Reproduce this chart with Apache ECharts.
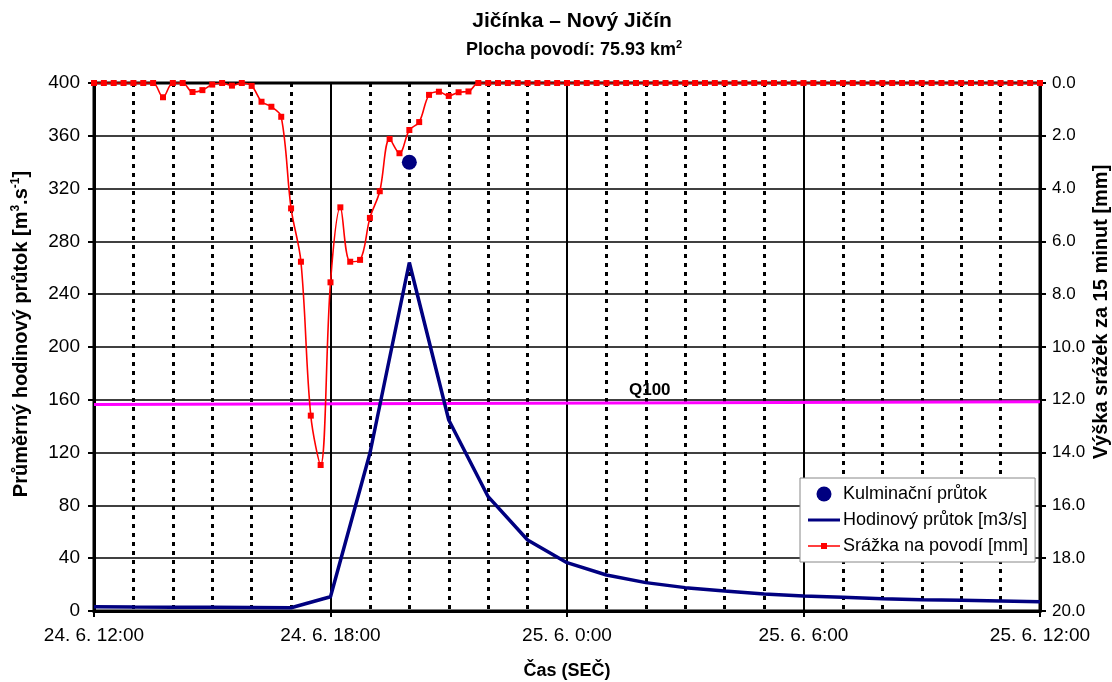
<!DOCTYPE html>
<html>
<head>
<meta charset="utf-8">
<script src="https://cdn.jsdelivr.net/npm/echarts@6/dist/echarts.min.js"></script>
<style>
html,body{margin:0;padding:0;background:#fff;overflow:hidden;}
#chart{width:1112px;height:682px;}
</style>
</head>
<body>
<div id="chart"></div>
<script>
// x axis: hours since 24. 6. 12:00
const xTickLabels = ['24. 6. 12:00', '24. 6. 18:00', '25. 6. 0:00', '25. 6. 6:00', '25. 6. 12:00'];
// hourly flow [m3/s], 24.6 12:00 .. 25.6 12:00
const flowHours = [0,1,2,3,4,5,6,7,8,9,10,11,12,13,14,15,16,17,18,19,20,21,22,23,24];
const flowValues = [3.2,3.0,2.9,2.8,2.7,2.5,10.8,119.5,264,144.7,86.6,53.8,36.6,27.3,21.5,17.7,15.2,12.9,11.4,10.4,9.3,8.6,8.1,7.6,7.1];
// 15-minute rainfall [mm], starting 24.6 12:00
const rainValues = [
  0,0,0,0, 0,0,0,0.54, 0,0,0.34,0.27, 0.06,0,0.1,0, 0.11,0.71,0.9,1.28,
  4.75,6.77,12.6,14.47, 7.55,4.71,6.77,6.70, 5.11,4.1,2.12,2.66, 1.78,1.48,0.45,0.33,
  0.49,0.35,0.32,0,
  0,0,0,0, 0,0,0,0, 0,0,0,0, 0,0,0,0, 0,0,0,0, 0,0,0,0, 0,0,0,0,
  0,0,0,0, 0,0,0,0, 0,0,0,0, 0,0,0,0, 0,0,0,0, 0,0,0,0, 0,0,0,0, 0
];
const rainStepHours = 0.25;
// culmination flow
const peakPoint = [8, 340];
// Q100 level line
const q100Line = [[0, 156.5], [24, 158.5]];
const q100LabelAt = [14.1, 157.6];

const FONT = '"Liberation Sans", Arial, sans-serif';
const rainData = rainValues.map((v, i) => [i * rainStepHours, v]);
const flowData = flowHours.map((h, i) => [h, flowValues[i]]);

const chart = echarts.init(document.getElementById('chart'), null, {renderer: 'canvas', width: 1112, height: 682});
chart.setOption({
  backgroundColor: '#fff',
  animation: false,
  textStyle: {fontFamily: FONT},
  graphic: [
    {type: 'text', x: 572, y: 21, z: 10, style: {text: 'Jičínka – Nový Jičín', textAlign: 'center', textVerticalAlign: 'middle',
      font: 'bold 21px ' + FONT, fill: '#000'}},
    {type: 'text', x: 574, y: 50, z: 10, style: {text: 'Plocha povodí: 75.93 km{sup|2}', textAlign: 'center', textVerticalAlign: 'middle',
      font: 'bold 18px ' + FONT, fill: '#000', rich: {sup: {fontSize: 11, fontWeight: 'bold', fontFamily: FONT, verticalAlign: 'top', lineHeight: 22}}}},
    {type: 'text', x: 21, y: 334, rotation: Math.PI / 2, z: 10, style: {text: 'Průměrný hodinový průtok [m{sup|3}.s{sup|-1}]', textAlign: 'center', textVerticalAlign: 'middle',
      font: 'bold 20px ' + FONT, fill: '#000', rich: {sup: {fontSize: 12, fontWeight: 'bold', fontFamily: FONT, verticalAlign: 'top', lineHeight: 23}}}},
    {type: 'text', x: 1101, y: 312, rotation: Math.PI / 2, z: 10, style: {text: 'Výška srážek za 15 minut [mm]', textAlign: 'center', textVerticalAlign: 'middle',
      font: 'bold 20px ' + FONT, fill: '#000'}},
    {type: 'text', x: 567, y: 671, z: 10, style: {text: 'Čas (SEČ)', textAlign: 'center', textVerticalAlign: 'middle',
      font: 'bold 18px ' + FONT, fill: '#000'}}
  ],
  grid: {left: 94, right: 72, top: 83, bottom: 71, show: true, borderColor: '#000', borderWidth: 3, backgroundColor: 'transparent'},
  legend: {
    orient: 'vertical', left: 800, top: 478,
    backgroundColor: '#fff', borderColor: '#888', borderWidth: 1,
    padding: [7, 7, 7, 8], itemGap: 8, itemWidth: 32, itemHeight: 15,
    textStyle: {fontFamily: FONT, fontSize: 18, color: '#000', padding: [0, 0, 0, -2]},
    data: [
      {name: 'Kulminační průtok', icon: 'circle', itemStyle: {color: '#000080', opacity: 1}},
      {name: 'Hodinový průtok [m3/s]', icon: 'path://M0,6 L32,6 L32,9 L0,9 Z', itemStyle: {color: '#000080'}},
      {name: 'Srážka na povodí [mm]', icon: 'path://M0,6.7 L32,6.7 L32,8.3 L0,8.3 Z M13,4.5 L19,4.5 L19,10.5 L13,10.5 Z', itemStyle: {color: '#ff0000'}}
    ]
  },
  xAxis: {
    type: 'value', min: 0, max: 24, interval: 6,
    axisLine: {show: true, lineStyle: {color: '#000', width: 3}},
    axisTick: {show: true, length: 6, lineStyle: {color: '#000', width: 2}},
    axisLabel: {fontFamily: FONT, fontSize: 19, color: '#000', margin: 15,
      formatter: v => xTickLabels[Math.round(v / 6)]},
    splitLine: {show: true, lineStyle: {color: '#000', width: 2}},
    minorTick: {show: false, splitNumber: 6},
    minorSplitLine: {show: true, lineStyle: {color: '#000', width: 3, type: [4, 5]}}
  },
  yAxis: [
    {type: 'value', min: 0, max: 400, interval: 40,
     axisLine: {show: true, lineStyle: {color: '#000', width: 3}},
     axisTick: {show: true, length: 6, lineStyle: {color: '#000', width: 2}},
     axisLabel: {fontFamily: FONT, fontSize: 19, color: '#000', margin: 14},
     splitLine: {show: true, lineStyle: {color: '#000', width: 1.6}}},
    {type: 'value', min: 0, max: 20, interval: 2, inverse: true, position: 'right',
     axisLine: {show: true, lineStyle: {color: '#000', width: 3}},
     axisTick: {show: true, length: 6, lineStyle: {color: '#000', width: 2}},
     axisLabel: {fontFamily: FONT, fontSize: 17, color: '#000', margin: 12, formatter: v => v.toFixed(1)},
     splitLine: {show: false}}
  ],
  series: [
    {name: 'Q100', type: 'line', yAxisIndex: 0, data: q100Line, symbol: 'none',
     lineStyle: {color: '#ff00ff', width: 3}, z: 3, silent: true,
     markPoint: {symbol: 'circle', symbolSize: 0, silent: true,
       label: {show: true, position: 'top', distance: 4, formatter: 'Q100',
         fontFamily: FONT, fontSize: 17, fontWeight: 'bold', color: '#000'},
       data: [{coord: q100LabelAt}]}},
    {name: 'Hodinový průtok [m3/s]', type: 'line', yAxisIndex: 0, data: flowData, symbol: 'none',
     lineStyle: {color: '#000080', width: 3.5}, itemStyle: {color: '#000080'}, z: 4},
    {name: 'Srážka na povodí [mm]', type: 'line', yAxisIndex: 1, data: rainData, smooth: 0.35,
     symbol: 'rect', symbolSize: 6, showAllSymbol: true,
     lineStyle: {color: '#ff0000', width: 1.6}, itemStyle: {color: '#ff0000'}, z: 5},
    {name: 'Kulminační průtok', type: 'scatter', yAxisIndex: 0, data: [peakPoint],
     symbol: 'circle', symbolSize: 15, itemStyle: {color: '#000080', opacity: 1}, z: 6}
  ]
});
</script>
</body>
</html>
